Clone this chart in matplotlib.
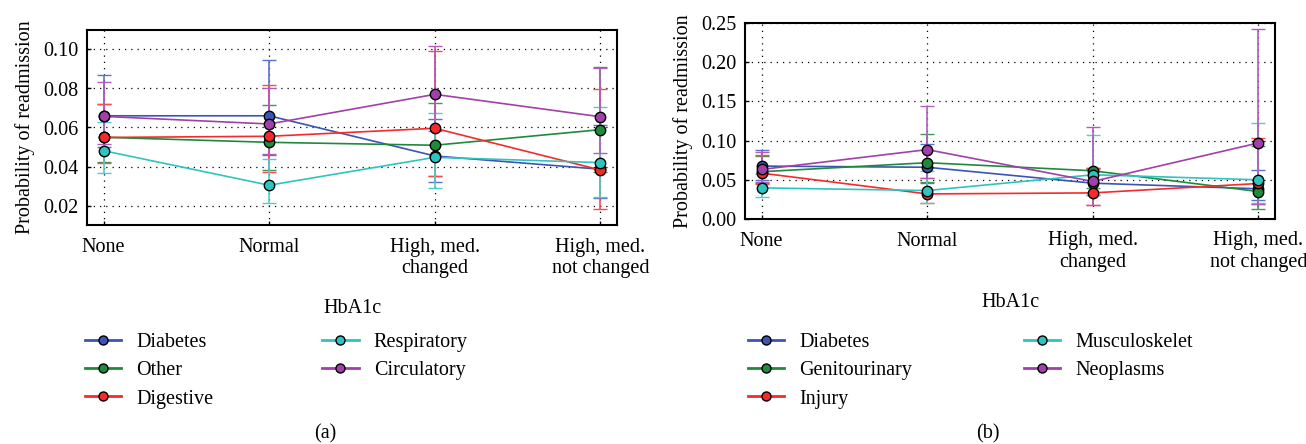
import matplotlib
matplotlib.use('Agg')
import matplotlib.pyplot as plt
from matplotlib.lines import Line2D
import numpy as np

plt.rcParams['font.family'] = ['Liberation Serif', 'DejaVu Serif']

# categories on the x axis
hba1c = ['None', 'Normal', 'High, med.\nchanged', 'High, med.\nnot changed']

# panel (a): mean, lower and upper bound of the interval
a_names = ['Diabetes', 'Other', 'Digestive', 'Respiratory', 'Circulatory']
a_mean = [[0.0660, 0.0660, 0.0454, 0.0386],
          [0.0550, 0.0524, 0.0509, 0.0589],
          [0.0549, 0.0555, 0.0596, 0.0382],
          [0.0481, 0.0304, 0.0447, 0.0420],
          [0.0657, 0.0618, 0.0770, 0.0655]]
a_lo = [[0.0500, 0.0460, 0.0320, 0.0236],
        [0.0423, 0.0380, 0.0350, 0.0370],
        [0.0416, 0.0374, 0.0352, 0.0182],
        [0.0369, 0.0212, 0.0292, 0.0246],
        [0.0515, 0.0464, 0.0580, 0.0471]]
a_hi = [[0.0870, 0.0945, 0.0645, 0.0613],
        [0.0718, 0.0717, 0.0725, 0.0911],
        [0.0718, 0.0816, 0.0990, 0.0795],
        [0.0630, 0.0437, 0.0672, 0.0705],
        [0.0834, 0.0805, 0.1019, 0.0906]]

# panel (b)
b_names = ['Diabetes', 'Genitourinary', 'Injury', 'Musculoskelet', 'Neoplasms']
b_mean = [[0.0675, 0.0660, 0.0457, 0.0385],
          [0.0603, 0.0718, 0.0615, 0.0350],
          [0.0585, 0.0320, 0.0333, 0.0453],
          [0.0397, 0.0363, 0.0564, 0.0500],
          [0.0632, 0.0885, 0.0479, 0.0970]]
b_lo = [[0.0500, 0.0460, 0.0300, 0.0244],
        [0.0460, 0.0466, 0.0400, 0.0128],
        [0.0450, 0.0205, 0.0175, 0.0190],
        [0.0286, 0.0205, 0.0300, 0.0200],
        [0.0470, 0.0520, 0.0175, 0.0190]]
b_hi = [[0.0876, 0.0953, 0.0650, 0.0620],
        [0.0800, 0.1090, 0.0640, 0.0930],
        [0.0820, 0.0520, 0.0650, 0.1030],
        [0.0570, 0.0610, 0.1070, 0.1226],
        [0.0855, 0.1444, 0.1175, 0.2423]]

colors = ['#3a55b4', '#1f8a3c', '#f52a2a', '#2ec4c0', '#a040a8']
ecolors = ['#5a72cc', '#3d9c55', '#ff4a4a', '#4fcfcb', '#b35cba']

W, H = 1306, 444
fs = 14.5
fig = plt.figure(figsize=(W / 100, H / 100), dpi=100)
ax_a = fig.add_axes([87 / W, 1 - 225 / H, 530 / W, 195 / H])
ax_b = fig.add_axes([745 / W, 1 - 219 / H, 530 / W, 196 / H])


def draw(ax, names, mean, lo, hi, ylim, yticks):
    x = np.arange(len(hba1c))
    handles = []
    for i, name in enumerate(names):
        m = np.array(mean[i])
        err = [m - np.array(lo[i]), np.array(hi[i]) - m]
        ax.errorbar(x, m, yerr=err, color=colors[i], ecolor=ecolors[i],
                    lw=1.2, elinewidth=1.2, capsize=5, capthick=1.3,
                    marker='o', ms=7.5, mfc=colors[i], mec='black', mew=1.0,
                    zorder=3)
        handles.append(Line2D([], [], color=colors[i], lw=2.0, marker='o',
                              ms=6.5, mfc=colors[i], mec='black', mew=1.0,
                              label=name))
    ax.set_xlim(-0.1, 3.1)
    ax.set_ylim(*ylim)
    ax.set_xticks(x)
    ax.set_xticklabels(hba1c, fontsize=fs)
    ax.set_yticks(yticks)
    ax.set_yticklabels(['%.2f' % v for v in yticks], fontsize=fs)
    ax.tick_params(direction='in', length=3, width=1, pad=6)
    ax.tick_params(axis='x', pad=9)
    ax.grid(True, color='black', linestyle=(0, (1, 4)), lw=0.9)
    for s in ax.spines.values():
        s.set_linewidth(1.5)
    ax.set_xlabel('HbA1c', fontsize=fs, labelpad=15)
    ax.set_ylabel('Probability of readmission', fontsize=fs, labelpad=6)
    return handles


h_a = draw(ax_a, a_names, a_mean, a_lo, a_hi, (0.01, 0.11),
           [0.02, 0.04, 0.06, 0.08, 0.10])
h_b = draw(ax_b, b_names, b_mean, b_lo, b_hi, (0.0, 0.25),
           [0.0, 0.05, 0.10, 0.15, 0.20, 0.25])

for ax, hs, lx, cs in [(ax_a, h_a, 67 / W, 5.4), (ax_b, h_b, 730 / W, 5.55)]:
    ax.legend(handles=hs, loc='upper left', bbox_to_anchor=(lx, 1 - 315 / H),
              bbox_transform=fig.transFigure, ncol=2, frameon=False,
              fontsize=fs, handlelength=1.8, handletextpad=0.75,
              columnspacing=cs, labelspacing=0.45)

fig.text(325 / W, 1 - 434 / H, '(a)', ha='center', va='center', fontsize=fs)
fig.text(988 / W, 1 - 434 / H, '(b)', ha='center', va='center', fontsize=fs)

fig.savefig('out.png', dpi=100)
